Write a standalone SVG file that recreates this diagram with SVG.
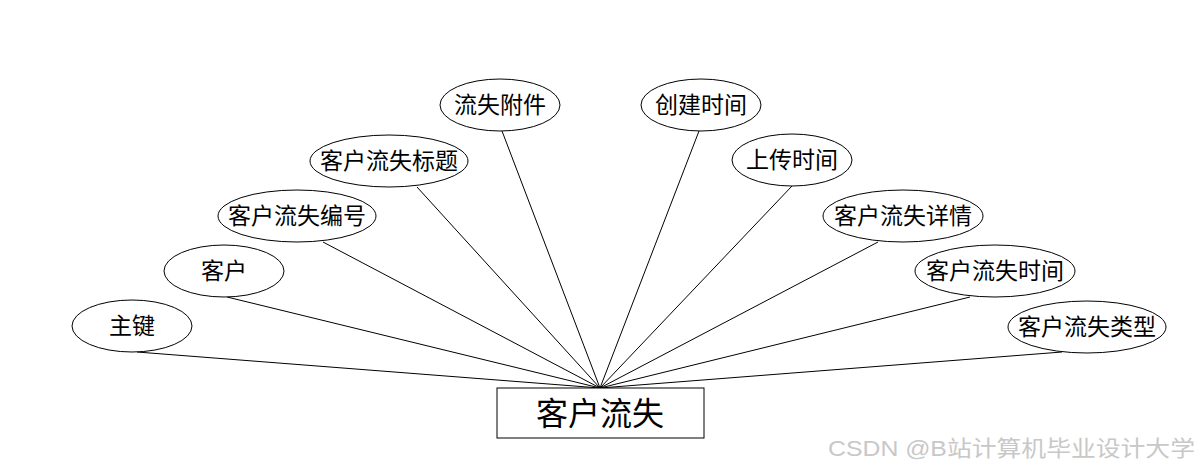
<svg xmlns="http://www.w3.org/2000/svg" width="1200" height="468" viewBox="0 0 1200 468">
<style>
.bg{fill:#ffffff}
.conn line{stroke:#000;stroke-width:1;fill:none}
.attr ellipse{fill:#fff;stroke:#000;stroke-width:1}
.lbl{font-family:"Noto Sans CJK SC","Liberation Sans",sans-serif;font-size:23px;fill:#000;text-anchor:middle}
.ent rect{fill:#fff;stroke:#000;stroke-width:1}
.entl{font-family:"Noto Sans CJK SC","Liberation Sans",sans-serif;font-size:32px;fill:#000;text-anchor:middle}
.wm{font-family:"Liberation Sans","Noto Sans CJK SC",sans-serif;font-size:22px;fill:#c8c8c8}
</style>
<rect class="bg" x="0" y="0" width="1200" height="468"/>
<g id="connectors" class="conn">
<line x1="137" y1="352" x2="600" y2="388"/>
<line x1="227" y1="297" x2="600" y2="388"/>
<line x1="323" y1="242" x2="600" y2="388"/>
<line x1="417" y1="187" x2="600" y2="388"/>
<line x1="502" y1="131" x2="600" y2="388"/>
<line x1="699" y1="131" x2="600" y2="388"/>
<line x1="792" y1="186" x2="600" y2="388"/>
<line x1="878" y1="242" x2="600" y2="388"/>
<line x1="970" y1="297" x2="600" y2="388"/>
<line x1="1062" y1="352" x2="600" y2="388"/>
</g>
<g id="n-zhujian" class="attr"><ellipse cx="132" cy="326" rx="60" ry="26"/><text class="lbl" x="132" y="334">主键</text></g>
<g id="n-kehu" class="attr"><ellipse cx="224" cy="271" rx="60" ry="26"/><text class="lbl" x="224" y="279">客户</text></g>
<g id="n-bianhao" class="attr"><ellipse cx="297" cy="216" rx="79" ry="26"/><text class="lbl" x="297" y="224">客户流失编号</text></g>
<g id="n-biaoti" class="attr"><ellipse cx="389" cy="161" rx="79" ry="26"/><text class="lbl" x="389" y="169">客户流失标题</text></g>
<g id="n-fujian" class="attr"><ellipse cx="500" cy="105" rx="60" ry="26"/><text class="lbl" x="500" y="113">流失附件</text></g>
<g id="n-chuangjian" class="attr"><ellipse cx="701" cy="105" rx="60" ry="26"/><text class="lbl" x="701" y="113">创建时间</text></g>
<g id="n-shangchuan" class="attr"><ellipse cx="792" cy="160" rx="60" ry="26"/><text class="lbl" x="792" y="168">上传时间</text></g>
<g id="n-xiangqing" class="attr"><ellipse cx="903" cy="216" rx="80" ry="26"/><text class="lbl" x="903" y="224">客户流失详情</text></g>
<g id="n-shijian" class="attr"><ellipse cx="995" cy="271" rx="80" ry="26"/><text class="lbl" x="995" y="279">客户流失时间</text></g>
<g id="n-leixing" class="attr"><ellipse cx="1087" cy="327" rx="79" ry="26"/><text class="lbl" x="1087" y="335">客户流失类型</text></g>
<g id="n-entity" class="ent"><rect x="497" y="388" width="207" height="50"/><text class="entl" x="600" y="425">客户流失</text></g>
<text class="wm" x="828" y="456" textLength="367" lengthAdjust="spacingAndGlyphs">CSDN @B站计算机毕业设计大学</text>
</svg>
